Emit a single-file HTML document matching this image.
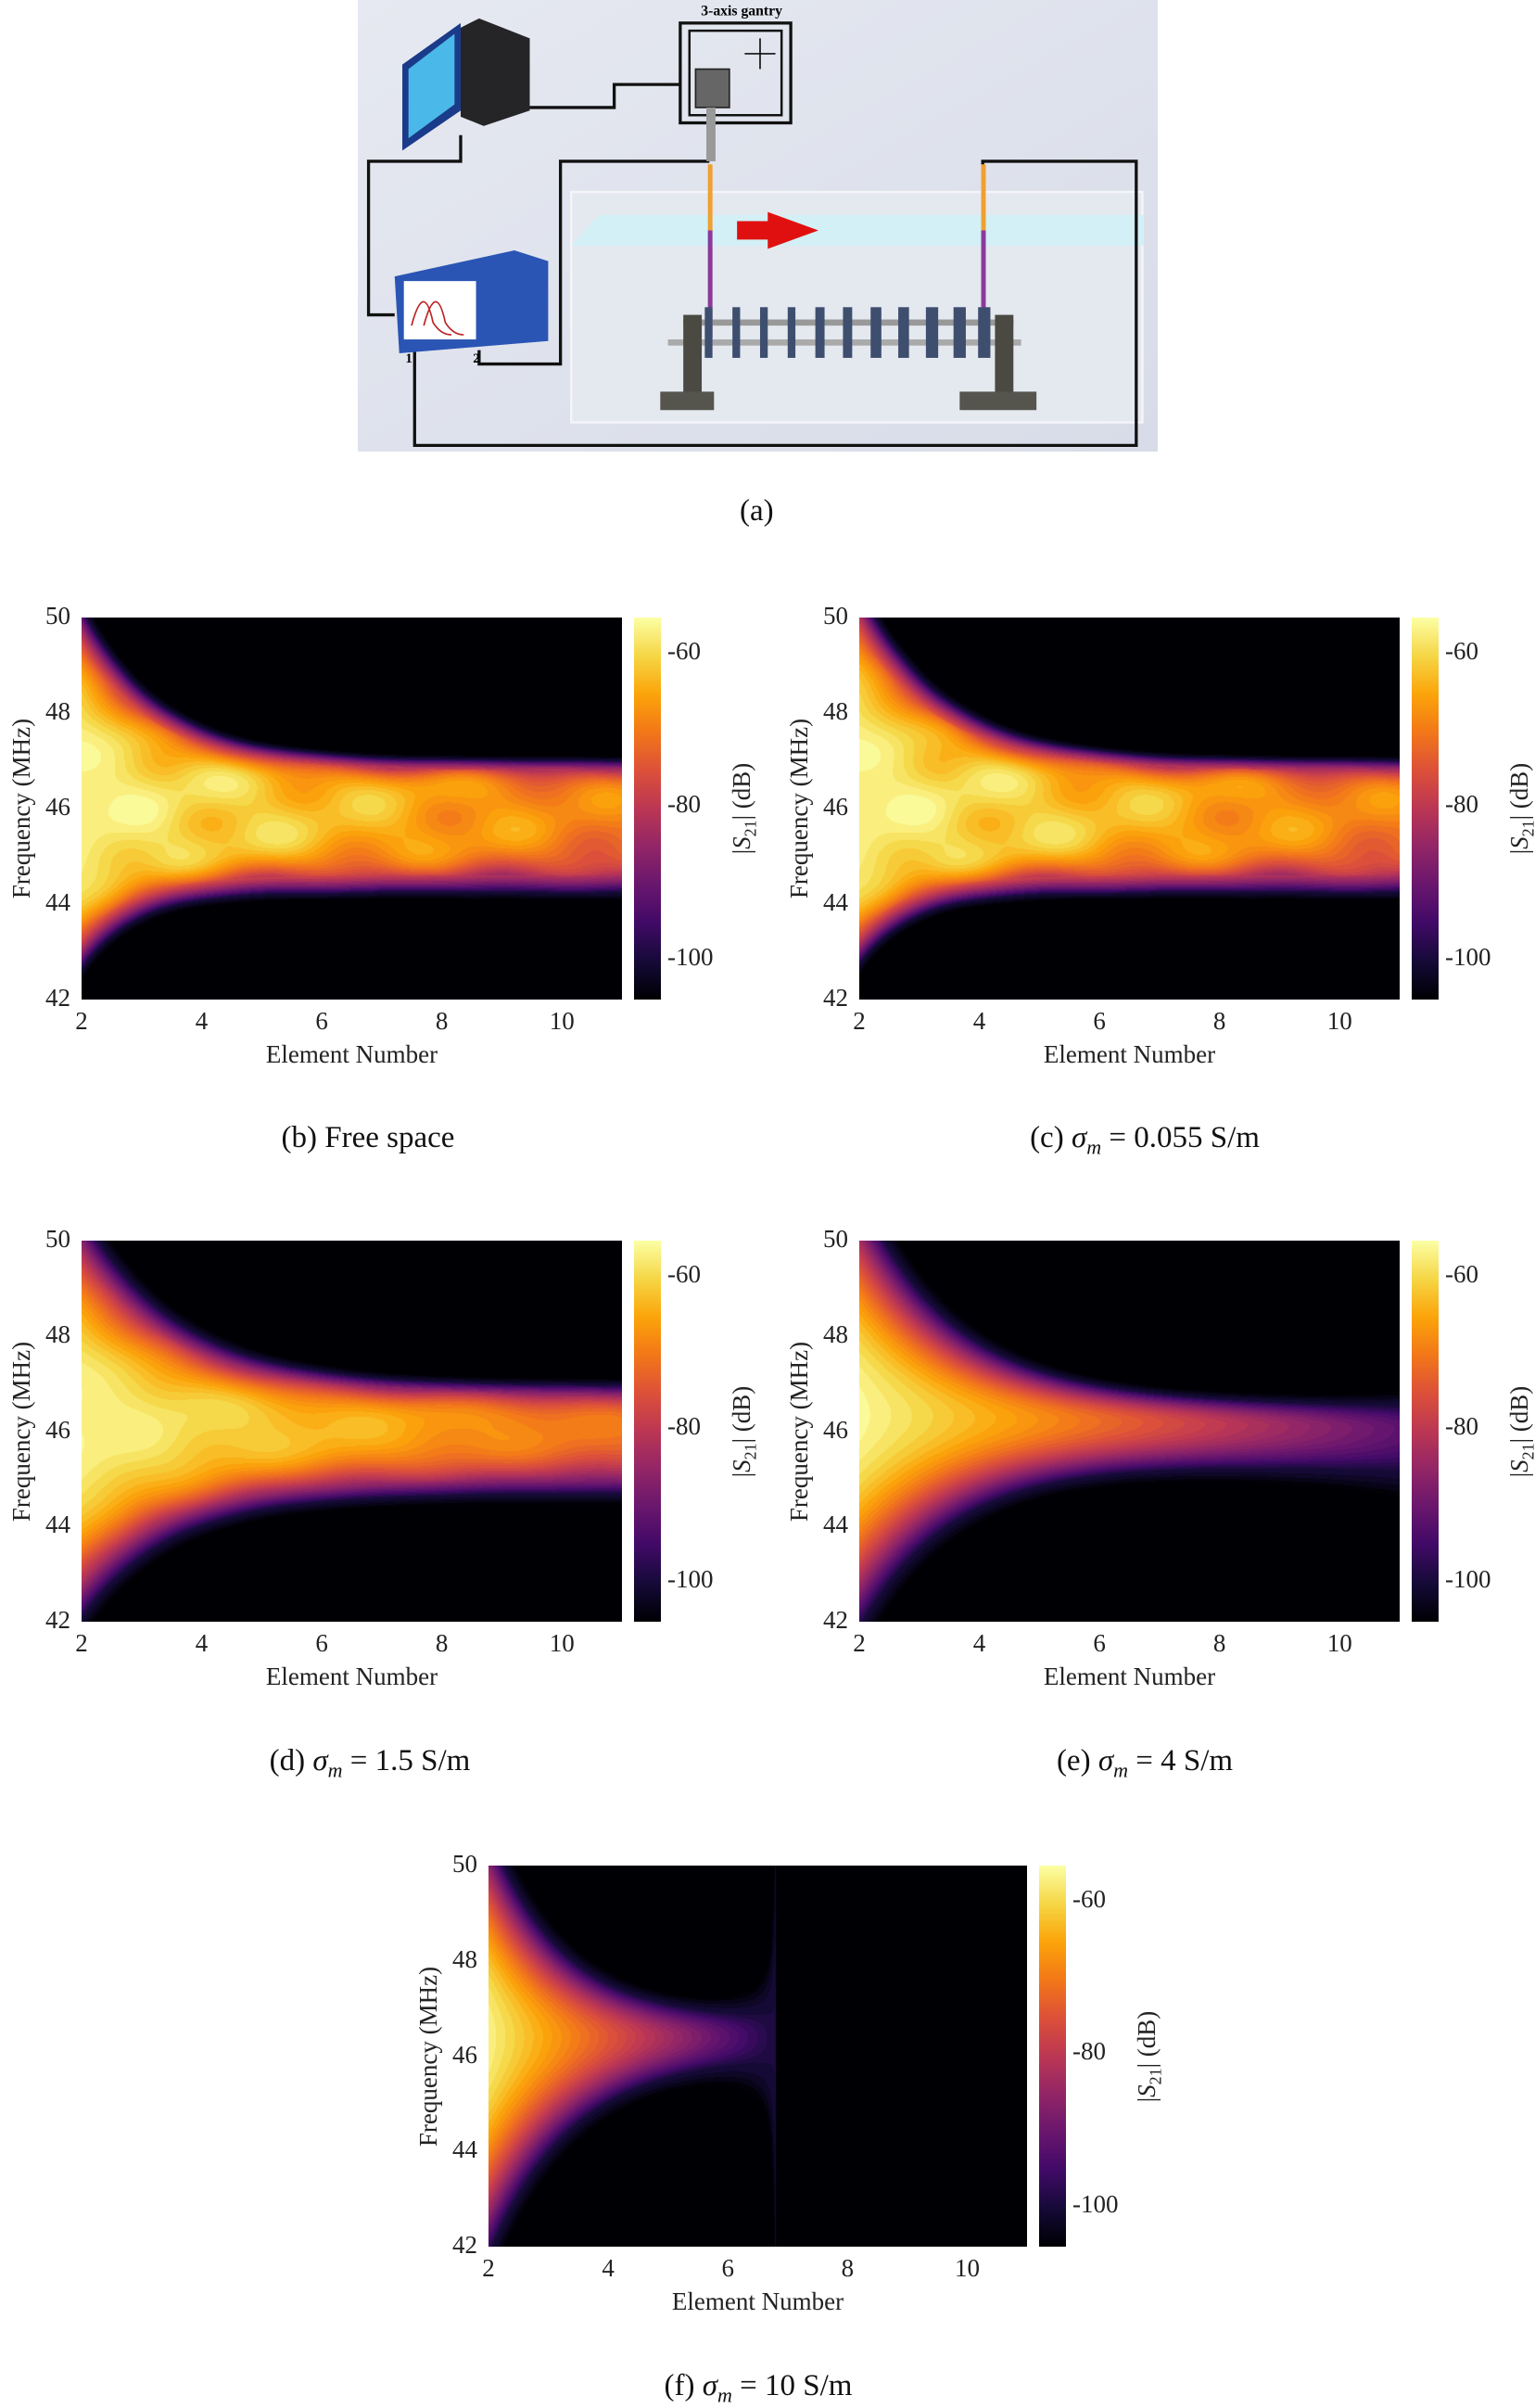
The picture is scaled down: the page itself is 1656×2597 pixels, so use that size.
<!DOCTYPE html>
<html><head><meta charset="utf-8">
<style>
body{margin:0;width:1656px;height:2592px;background:#fff;position:relative;overflow:hidden;font-family:"Liberation Serif",serif;color:#222}
.a{position:absolute;white-space:nowrap}
canvas{position:absolute}
.tk{font-size:27px}
.cap{font-size:33px;color:#111}
</style></head><body>
<svg class="a" style="left:386px;top:0" width="863" height="487" viewBox="233 0 521 294">
<defs><linearGradient id="bg" x1="0" y1="0" x2="1" y2="1"><stop offset="0" stop-color="#e6e9f1"/><stop offset="1" stop-color="#d8dce8"/></linearGradient></defs>
<rect x="233" y="0" width="521" height="294" fill="url(#bg)"/>
<rect x="372" y="125" width="372" height="150" fill="#e4e8ef" stroke="#f3f5f9" stroke-width="1.5"/>
<polygon points="390,140 745,140 745,160 372,160" fill="#d2f0f6"/>
<g fill="none" stroke="#111" stroke-width="2">
<rect x="443" y="15" width="72" height="65"/><rect x="449" y="20" width="60" height="55" stroke-width="1.5"/>
<path d="M345 70H400V55H443"/>
<path d="M300 88V105H240V205H257"/>
<path d="M312 228V237H365V105H462"/>
<path d="M270 228V290H740V105H640V112"/>
<path d="M495 25v20M485 35h20" stroke-width="1"/>
</g>
<polygon points="262,42 300,15 300,72 262,98" fill="#1a3a8a"/><polygon points="266,45 296,22 296,68 266,90" fill="#4ab8e8"/>
<polygon points="300,18 312,12 345,25 345,72 315,82 300,76" fill="#252528"/>
<polygon points="257,180 335,163 357,170 357,222 260,230" fill="#2a55b5"/>
<rect x="263" y="183" width="47" height="38" fill="#fff"/>
<path d="M268 212q8-30 14-2q5 8 12 8M276 212q8-30 14-2q5 8 12 8" stroke="#b22" fill="none" stroke-width="1"/>
<rect x="453" y="45" width="22" height="25" fill="#666" stroke="#222"/>
<rect x="460" y="70" width="6" height="35" fill="#999"/>
<rect x="461" y="107" width="3" height="43" fill="#f0a030"/><rect x="461" y="150" width="3" height="70" fill="#8a3a9a"/>
<rect x="639" y="107" width="3" height="43" fill="#f0a030"/><rect x="639" y="150" width="3" height="70" fill="#8a3a9a"/>
<polygon points="480,144 500,144 500,138 533,150 500,162 500,156 480,156" fill="#e01010"/>
<rect x="445" y="208" width="215" height="4" fill="#999"/><rect x="435" y="221" width="230" height="4" fill="#aaa"/>
<g fill="#3e4e6e"><rect x="459" y="200" width="5" height="33"/><rect x="477" y="200" width="5" height="33"/><rect x="495" y="200" width="5" height="33"/><rect x="513" y="200" width="5" height="33"/><rect x="531" y="200" width="6" height="33"/><rect x="549" y="200" width="6" height="33"/><rect x="567" y="200" width="7" height="33"/><rect x="585" y="200" width="7" height="33"/><rect x="603" y="200" width="8" height="33"/><rect x="621" y="200" width="8" height="33"/><rect x="637" y="200" width="8" height="33"/></g>
<rect x="445" y="205" width="12" height="55" fill="#4a4a42"/><rect x="430" y="255" width="35" height="12" fill="#55554e"/>
<rect x="648" y="205" width="12" height="55" fill="#4a4a42"/><rect x="625" y="255" width="50" height="12" fill="#55554e"/>
<text x="483" y="10" font-family="Liberation Serif" font-weight="bold" font-size="9.5" text-anchor="middle">3-axis gantry</text>
<text x="264" y="236" font-family="Liberation Serif" font-weight="bold" font-size="9">1</text>
<text x="308" y="236" font-family="Liberation Serif" font-weight="bold" font-size="9">2</text>
</svg>
<div class="a cap" style="left:798px;top:533px">(a)</div>
<script>
const stops=[[0,0,0,4],[.1,22,11,57],[.2,66,10,104],[.3,106,23,110],[.4,147,38,103],[.5,188,55,84],[.6,221,81,58],[.7,243,120,25],[.8,252,165,10],[.9,246,215,70],[1,252,255,164]];
function cmap(t){t=Math.max(0,Math.min(1,t));for(let i=1;i<stops.length;i++){if(t<=stops[i][0]){const a=stops[i-1],b=stops[i],u=(t-a[0])/(b[0]-a[0]);return [a[1]+u*(b[1]-a[1]),a[2]+u*(b[2]-a[2]),a[3]+u*(b[3]-a[3])];}}return stops[10].slice(1);}
const VMIN=-105.4,VMAX=-55.4;
const X=Math.exp;
const P={
b:{P:e=>-57-13*(e-2)/9,c:e=>46.0,Hu:e=>1.0+3.2*X(-(e-2)/1.3),Hd:e=>1.75+1.6*X(-(e-2)/0.9),n:4,nz:2.0},
c:{P:e=>-57-13*(e-2)/9,c:e=>46.0,Hu:e=>1.0+3.6*X(-(e-2)/1.4),Hd:e=>1.75+1.5*X(-(e-2)/0.9),n:4,nz:2.0},
d:{P:e=>-56.5-15*(e-2)/9,c:e=>46.1,Hu:e=>0.85+3.6*X(-(e-2)/1.6),Hd:e=>1.4+2.6*X(-(e-2)/1.5),n:2.6,nz:0.8},
e:{P:e=>-56-36*(e-2)/9,c:e=>46.35-0.3*(e-2)/9,Hu:e=>0.45+4.2*X(-(e-2)/1.5),Hd:e=>0.85+3.6*X(-(e-2)/1.6),n:2,nz:0},
f:{P:e=>-57-43*(e-2)/4.8,c:e=>46.4,Hu:e=>0.35+4*X(-(e-2)/1.2),Hd:e=>0.35+4.2*X(-(e-2)/1.4),n:2,nz:0}
};
function val(p,e,f){const pk=p.P(e);if(pk<=-100)return -106;let d=f-p.c(e);let H=d>0?p.Hu(e):p.Hd(e);let r=Math.abs(d)/H;let v=-100+(pk+100)*(1-Math.pow(r,p.n));
if(p.nz)v+=p.nz*(Math.sin(e*3.1+f*2.3)+Math.sin(e*1.7-f*3.9))*Math.min(1,(e-2)/2+0.3)*(r<0.8?1:0.3);
if(v<-100)v=-100-(-100-v)*0.4;return v;}
function panel(key,L,T,R,B,cbL,cap,capX,capY){
const root=document.body,w=R-L,h=B-T,p=P[key];
const cv=document.createElement('canvas');cv.width=w;cv.height=h;cv.style.left=L+'px';cv.style.top=T+'px';root.appendChild(cv);
const ctx=cv.getContext('2d'),im=ctx.createImageData(w,h);
for(let j=0;j<h;j++){const f=50-8*j/(h-1);for(let i=0;i<w;i++){const e=2+9*i/(w-1);let v=val(p,e,f);v=Math.round(v/1.4)*1.4;const c=cmap((v-VMIN)/(VMAX-VMIN));const k=(j*w+i)*4;im.data[k]=c[0];im.data[k+1]=c[1];im.data[k+2]=c[2];im.data[k+3]=255;}}
ctx.putImageData(im,0,0);
const cb=document.createElement('canvas');cb.width=29;cb.height=h;cb.style.left=cbL+'px';cb.style.top=T+'px';root.appendChild(cb);
const c2=cb.getContext('2d');for(let j=0;j<h;j++){const c=cmap(1-j/(h-1));c2.fillStyle=`rgb(${c[0]|0},${c[1]|0},${c[2]|0})`;c2.fillRect(0,j,29,1);}
let html='';
for(let k=0;k<5;k++){const y=T+h*k/4;html+=`<div class="a tk" style="left:${L-60}px;width:48px;text-align:right;top:${y-17}px">${50-2*k}</div>`;}
[2,4,6,8,10].forEach(x=>{const xx=L+w*(x-2)/9;html+=`<div class="a tk" style="left:${xx-30}px;width:60px;text-align:center;top:${B+8}px">${x}</div>`;});
[[-60,0.092],[-80,0.492],[-100,0.892]].forEach(([v,t])=>{html+=`<div class="a tk" style="left:${cbL+36}px;top:${T+h*t-17}px">${v}</div>`;});
html+=`<div class="a tk" style="left:${L+w/2-150}px;width:300px;text-align:center;top:${B+44}px">Element Number</div>`;
html+=`<div class="a tk" style="left:${L-65-150}px;width:300px;height:34px;line-height:34px;text-align:center;top:${T+h/2-17}px;transform:rotate(-90deg)">Frequency (MHz)</div>`;
html+=`<div class="a tk" style="left:${cbL+116-150}px;width:300px;height:34px;line-height:34px;text-align:center;top:${T+h/2-17}px;transform:rotate(-90deg)">|<i>S</i><sub style="font-size:18px">21</sub>| (dB)</div>`;
html+=`<div class="a cap" style="left:${capX-250}px;width:500px;text-align:center;top:${capY-20}px">${cap}</div>`;
const d=document.createElement('div');d.innerHTML=html;root.appendChild(d);}
const sg='<i>σ<sub style="font-size:22px">m</sub></i>';
panel('b',88,666,671,1078,684,'(b) Free space',397,1229);
panel('c',927,666,1510,1078,1523,'(c) '+sg+' = 0.055 S/m',1235,1229);
panel('d',88,1338,671,1749,684,'(d) '+sg+' = 1.5 S/m',399,1901);
panel('e',927,1338,1510,1749,1523,'(e) '+sg+' = 4 S/m',1235,1901);
panel('f',527,2012,1108,2423,1121,'(f) '+sg+' = 10 S/m',818,2575);
</script>
</body></html>
